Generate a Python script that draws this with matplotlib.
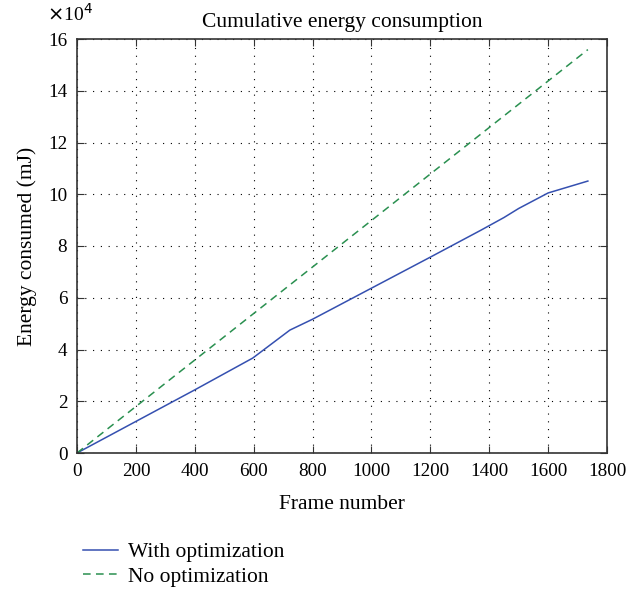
import matplotlib
matplotlib.use("Agg")
import matplotlib.pyplot as plt
import numpy as np

plt.rcParams['font.family'] = ['Liberation Serif', 'DejaVu Serif']

# frame number vs cumulative energy (x1e4 mJ)
frames_opt = [0, 200, 400, 597, 723, 800, 1000, 1200, 1370, 1450, 1500, 1600, 1735]
energy_opt = [0, 1.22, 2.44, 3.67, 4.75, 5.17, 6.37, 7.57, 8.6, 9.1, 9.45, 10.05, 10.51]
frames_noopt = [0, 1735]
energy_noopt = [0, 15.59]

fig = plt.figure(figsize=(6.4, 5.92), dpi=100)
ax = fig.add_axes([77/640, 1 - 453/592, (607-77)/640, (453-39)/592])

ax.plot(frames_opt, energy_opt, color='#3550b0', lw=1.1, label='With optimization')
ax.plot(frames_noopt, energy_noopt, color='#2a9050', lw=1.1, ls=(0, (5, 3.5)), label='No optimization')

ax.set_xlim(0, 1800)
ax.set_ylim(0, 16)
ax.set_xticks(np.arange(0, 1801, 200))
ax.set_yticks(np.arange(0, 17, 2))
ax.grid(True, color='black', ls=(0, (1, 6)), lw=0.8)
ax.tick_params(direction='in', top=True, right=True, length=5, labelsize=13.8, pad=7, color='#333333')
for s in ax.spines.values():
    s.set_color('#333333')
    s.set_linewidth(1.2)

ax.set_title('Cumulative energy consumption', fontsize=15.5, pad=9)
ax.set_xlabel('Frame number', fontsize=15.5, labelpad=11)
ax.set_ylabel('Energy consumed (mJ)', fontsize=15.5, labelpad=8)
fig.text(47/640, 1 - 14/592, r'$\times$10$^4$', fontsize=14, va='center')

ax.legend(loc='upper left', bbox_to_anchor=(-0.005, -0.195), frameon=False, fontsize=15.5,
          handlelength=1.65, handletextpad=0.45, labelspacing=0.2, borderaxespad=0)

fig.savefig('out.png', dpi=100)
